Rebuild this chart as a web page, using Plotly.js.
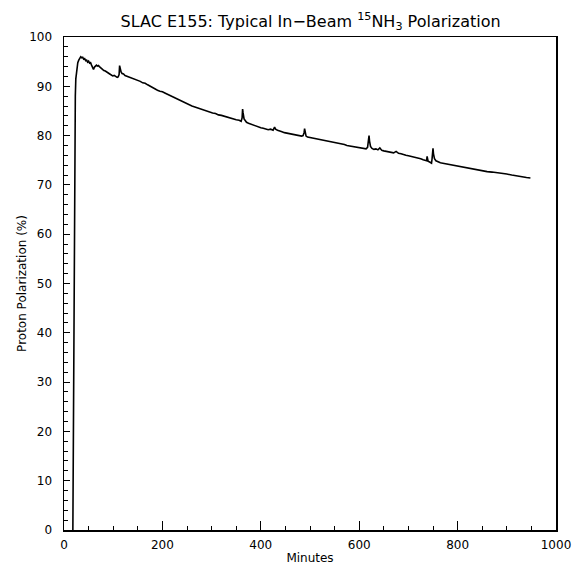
<!DOCTYPE html>
<html>
<head>
<meta charset="utf-8">
<script src="https://cdn.plot.ly/plotly-3.0.1.min.js"></script>
<style>
  html, body { margin: 0; padding: 0; background: #ffffff; }
  #chart { width: 572px; height: 565px; }
</style>
</head>
<body>
<div id="chart"></div>
<script>
// Time since start of run (minutes)
const minutes = [
  18, 19, 20, 21, 22, 23, 24, 26, 28, 30,
  32, 34, 36, 38, 40, 42, 44, 46, 48, 50,
  52, 54, 56, 58, 60, 62, 64, 66, 68, 70,
  72, 75, 78, 81, 84, 87, 90, 93, 96, 99,
  102, 105, 108, 110, 112, 113, 114, 116, 118, 121,
  124, 127, 130, 134, 138, 142, 146, 150, 155, 160,
  165, 170, 175, 180, 185, 190, 195, 200, 206, 212,
  218, 224, 230, 236, 242, 248, 254, 260, 266, 272,
  278, 284, 290, 296, 302, 308, 314, 320, 326, 332,
  338, 344, 350, 356, 360, 362, 363, 364, 366, 368,
  371, 375, 380, 385, 390, 395, 400, 405, 410, 415,
  420, 425, 428, 430, 434, 438, 443, 448, 453, 458,
  463, 468, 473, 478, 483, 486, 488, 489, 490, 492,
  495, 500, 505, 510, 515, 520, 525, 530, 535, 540,
  545, 550, 555, 560, 565, 570, 575, 580, 585, 590,
  595, 600, 605, 610, 614, 617, 619, 620, 621, 623,
  626, 630, 634, 638, 642, 646, 650, 655, 660, 665,
  670, 675, 680, 685, 690, 695, 700, 705, 710, 715,
  720, 725, 730, 735, 737, 738, 740, 744, 747, 748,
  749, 750, 751, 753, 756, 760, 765, 770, 775, 780,
  790, 800, 810, 820, 830, 840, 850, 860, 870, 880,
  890, 900, 910, 920, 930, 940, 948
];

// Proton polarization (%)
const polarization = [
  0, 22, 48, 68, 81, 88, 91.5, 93.8, 94.8, 95.3,
  95.6, 96.0, 95.8, 95.9, 95.5, 95.6, 95.2, 95.3, 94.9, 95.1,
  94.7, 94.8, 94.3, 93.8, 93.4, 93.9, 94.2, 94.3, 94.1, 94.2,
  94.0, 93.7, 93.5, 93.2, 93.1, 92.8, 92.7, 92.5, 92.3, 92.1,
  92.2, 91.9, 91.8, 91.9, 92.4, 94.2, 93.6, 92.9, 92.6, 92.5,
  92.2, 92.1, 91.9, 91.8, 91.6, 91.5, 91.3, 91.2, 91.0, 90.7,
  90.6, 90.3, 90.0, 89.8, 89.5, 89.2, 89.0, 88.9, 88.6, 88.3,
  88.0, 87.8, 87.5, 87.2, 86.9, 86.6, 86.3, 86.0, 85.8, 85.6,
  85.3, 85.2, 84.9, 84.8, 84.6, 84.5, 84.2, 84.1, 83.9, 83.7,
  83.5, 83.4, 83.2, 83.1, 82.9, 83.6, 85.4, 84.6, 83.4, 83.0,
  82.7, 82.5, 82.3, 82.1, 82.0, 81.8, 81.6, 81.5, 81.4, 81.2,
  81.3, 81.1, 81.7, 81.3, 81.1, 80.9, 80.8, 80.6, 80.5, 80.4,
  80.3, 80.2, 80.1, 80.0, 79.9, 80.0, 80.6, 81.4, 80.5, 79.9,
  79.7, 79.6, 79.5, 79.4, 79.3, 79.2, 79.1, 79.0, 78.9, 78.8,
  78.7, 78.7, 78.6, 78.5, 78.3, 78.2, 78.0, 77.9, 77.8, 77.7,
  77.6, 77.5, 77.5, 77.4, 77.3, 77.6, 79.2, 80.0, 78.9, 77.8,
  77.4, 77.2, 77.3, 77.1, 77.5, 77.0, 76.9, 76.8, 76.7, 76.6,
  76.5, 76.8, 76.4, 76.3, 76.1, 76.0, 75.9, 75.8, 75.6, 75.5,
  75.4, 75.3, 75.1, 75.0, 74.9, 75.8, 74.8, 74.6, 74.4, 75.2,
  76.5, 77.4, 76.3, 75.3, 74.9, 74.7, 74.5, 74.4, 74.3, 74.2,
  74.0, 73.8, 73.6, 73.4, 73.2, 73.1, 72.9, 72.7, 72.6, 72.5,
  72.3, 72.2, 72.0, 71.8, 71.7, 71.5, 71.4
];

const xTickValues = [0, 200, 400, 600, 800, 1000];
const yTickValues = [0, 10, 20, 30, 40, 50, 60, 70, 80, 90, 100];

const titleText = 'SLAC E155: Typical In\u2212Beam <sup>15</sup>NH<sub>3</sub> Polarization';
const xTitleText = 'Minutes';
const yTitleText = 'Proton Polarization (%)';

const fontFamily = '"DejaVu Sans", "Liberation Sans", sans-serif';

const trace = {
  x: minutes,
  y: polarization,
  type: 'scatter',
  mode: 'lines',
  line: { color: '#000000', width: 1.6 },
  hoverinfo: 'x+y'
};

const layout = {
  width: 572,
  height: 565,
  paper_bgcolor: '#ffffff',
  plot_bgcolor: '#ffffff',
  showlegend: false,
  margin: { l: 64, r: 16, t: 37, b: 35, pad: 0 },
  font: { family: fontFamily, size: 12, color: '#000000' },
  title: {
    text: titleText,
    font: { family: fontFamily, size: 16, color: '#000000' },
    xref: 'container', x: 0.543, xanchor: 'center',
    yref: 'container', y: 0.963, yanchor: 'middle'
  },
  xaxis: {
    range: [0, 1000],
    tickmode: 'array',
    tickvals: xTickValues,
    ticks: 'inside',
    ticklen: 9,
    tickwidth: 1,
    tickcolor: '#000000',
    minor: { dtick: 50, tick0: 0, ticks: 'inside', ticklen: 4, tickwidth: 1, tickcolor: '#000000', showgrid: false },
    showline: true,
    mirror: true,
    linecolor: '#000000',
    linewidth: 1.5,
    showgrid: false,
    zeroline: false,
    automargin: false,
    fixedrange: true,
    ticklabelstandoff: 3,
    tickfont: { family: fontFamily, size: 12, color: '#000000' },
    title: { text: xTitleText, font: { family: fontFamily, size: 12, color: '#000000' }, standoff: 6 }
  },
  yaxis: {
    range: [0, 100],
    tickmode: 'array',
    tickvals: yTickValues,
    ticks: 'inside',
    ticklen: 6,
    tickwidth: 1,
    tickcolor: '#000000',
    minor: { dtick: 2, tick0: 0, ticks: 'inside', ticklen: 4, tickwidth: 1, tickcolor: '#000000', showgrid: false },
    showline: true,
    mirror: true,
    linecolor: '#000000',
    linewidth: 1.5,
    showgrid: false,
    zeroline: false,
    automargin: false,
    fixedrange: true,
    ticklabelstandoff: 8,
    tickfont: { family: fontFamily, size: 12, color: '#000000' },
    title: { text: yTitleText, font: { family: fontFamily, size: 12, color: '#000000' }, standoff: 0 }
  }
};

Plotly.newPlot('chart', [trace], layout, { displayModeBar: false, staticPlot: true });
</script>
</body>
</html>
